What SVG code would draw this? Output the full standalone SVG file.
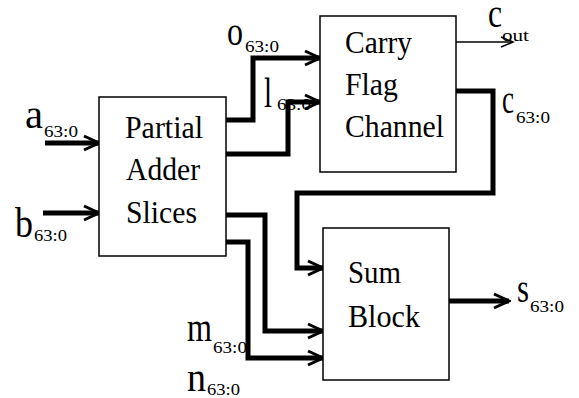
<svg xmlns="http://www.w3.org/2000/svg" width="579" height="398" viewBox="0 0 579 398">
<style>
.box{fill:#fff;stroke:#000;stroke-width:1.5}
.t{font-size:32px;fill:#000}
.lb{font-size:39px;fill:#000}
.lt{font-size:43px;fill:#000}
.sb{font-size:17px;fill:#000}
.w{fill:none;stroke:#000;stroke-width:5;stroke-linejoin:miter}
.thin{fill:none;stroke:#000;stroke-width:1.5}
</style>
<defs>
<marker id="ah" markerUnits="userSpaceOnUse" markerWidth="20" markerHeight="20" viewBox="-18 -10 20 20" refX="0" refY="0" orient="auto">
<path d="M-15,-7 L0,0 L-15,7" fill="none" stroke="#000" stroke-width="3"/>
</marker>
<marker id="ahs" markerUnits="userSpaceOnUse" markerWidth="20" markerHeight="20" viewBox="-18 -10 20 20" refX="0" refY="0" orient="auto">
<path d="M-12,-5 L0,0 L-12,5" fill="none" stroke="#000" stroke-width="1.5"/>
</marker>
</defs>
<rect width="579" height="398" fill="#fff"/>
<g id="connectors">
<path class="w" d="M45,143 H99" marker-end="url(#ah)"/>
<path class="w" d="M43,213 H99" marker-end="url(#ah)"/>
<path class="w" d="M226,120 H253 V58 H320" marker-end="url(#ah)"/>
<path class="w" d="M226,154 H288 V102 H320" marker-end="url(#ah)"/>
<path class="w" d="M456,91 H493 V193 H297 V268 H323" marker-end="url(#ah)"/>
<path class="w" d="M226,215 H265 V331 H323" marker-end="url(#ah)"/>
<path class="w" d="M226,242 H248 V358 H323" marker-end="url(#ah)"/>
<path class="w" d="M449,301 H509" marker-end="url(#ah)"/>
<path class="thin" d="M456,42 H513" marker-end="url(#ahs)"/>
</g>
<g id="partial-adder" font-family="Liberation Serif, DejaVu Serif, serif">
<rect class="box" x="99" y="97" width="127" height="159"/>
<text class="t" x="125" y="138" textLength="78" lengthAdjust="spacingAndGlyphs">Partial</text>
<text class="t" x="126" y="180" textLength="74" lengthAdjust="spacingAndGlyphs">Adder</text>
<text class="t" x="126" y="223" textLength="71" lengthAdjust="spacingAndGlyphs">Slices</text>
</g>
<g id="carry-flag-channel" font-family="Liberation Serif, DejaVu Serif, serif">
<rect class="box" x="320" y="16" width="136" height="156"/>
<text class="t" x="345" y="53" textLength="67" lengthAdjust="spacingAndGlyphs">Carry</text>
<text class="t" x="345" y="95" textLength="53" lengthAdjust="spacingAndGlyphs">Flag</text>
<text class="t" x="345" y="137" textLength="99" lengthAdjust="spacingAndGlyphs">Channel</text>
</g>
<g id="sum-block" font-family="Liberation Serif, DejaVu Serif, serif">
<rect class="box" x="323" y="228" width="126" height="152"/>
<text class="t" x="348" y="283" textLength="53" lengthAdjust="spacingAndGlyphs">Sum</text>
<text class="t" x="348" y="327" textLength="72" lengthAdjust="spacingAndGlyphs">Block</text>
</g>
<g id="labels" font-family="Liberation Serif, DejaVu Serif, serif">
<text class="lb" x="25" y="128" textLength="18" lengthAdjust="spacingAndGlyphs">a</text>
<text class="sb" x="44" y="137" textLength="34" lengthAdjust="spacingAndGlyphs">63:0</text>
<text class="lt" x="15" y="237" textLength="18" lengthAdjust="spacingAndGlyphs">b</text>
<text class="sb" x="34" y="241" textLength="33" lengthAdjust="spacingAndGlyphs">63:0</text>
<text class="lb" x="227" y="45" textLength="16" lengthAdjust="spacingAndGlyphs">o</text>
<text class="sb" x="245" y="52" textLength="34" lengthAdjust="spacingAndGlyphs">63:0</text>
<text class="lt" x="264" y="107" textLength="8" lengthAdjust="spacingAndGlyphs">l</text>
<text class="sb" x="277" y="110" textLength="34" lengthAdjust="spacingAndGlyphs">63:0</text>
<text class="lb" x="488" y="27" textLength="14" lengthAdjust="spacingAndGlyphs">c</text>
<text class="sb" x="502" y="41" textLength="27" lengthAdjust="spacingAndGlyphs">out</text>
<text class="lb" x="502" y="113" textLength="12" lengthAdjust="spacingAndGlyphs">c</text>
<text class="sb" x="516" y="123" textLength="34" lengthAdjust="spacingAndGlyphs">63:0</text>
<text class="lb" x="517" y="302" textLength="12" lengthAdjust="spacingAndGlyphs">s</text>
<text class="sb" x="530" y="312" textLength="34" lengthAdjust="spacingAndGlyphs">63:0</text>
<text class="lb" x="187" y="341" textLength="25" lengthAdjust="spacingAndGlyphs">m</text>
<text class="sb" x="213" y="353" textLength="34" lengthAdjust="spacingAndGlyphs">63:0</text>
<text class="lb" x="187" y="391" textLength="19" lengthAdjust="spacingAndGlyphs">n</text>
<text class="sb" x="207" y="395" textLength="33" lengthAdjust="spacingAndGlyphs">63:0</text>
</g>
</svg>
